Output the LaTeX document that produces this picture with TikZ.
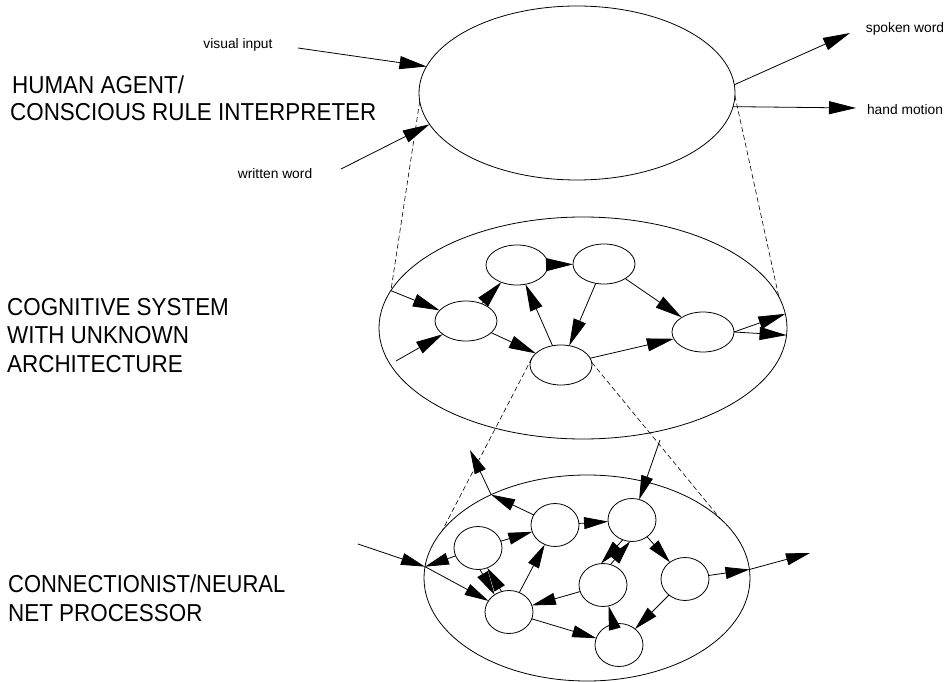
\documentclass[tikz,border=0pt]{standalone}
\usepackage{fontspec}
\setmainfont{Liberation Sans}
\usetikzlibrary{arrows.meta,shapes.geometric}
\tikzset{
  conn/.style={-{Triangle[length=27pt,width=13pt]}, line width=0.8pt},
  sconn/.style={-{Triangle[length=24pt,width=12pt]}, line width=0.8pt},
  dashline/.style={line width=0.6pt, dash pattern=on 5pt off 3pt},
  bigell/.style={draw, ellipse, line width=0.8pt, inner sep=0pt, outer sep=0pt},
  midnode/.style={draw, ellipse, line width=0.8pt, inner sep=0pt, outer sep=0pt, minimum width=62pt, minimum height=40pt},
  botnode/.style={draw, ellipse, line width=0.8pt, inner sep=0pt, outer sep=0pt, minimum width=48pt, minimum height=43pt},
  smalllabel/.style={inner sep=0pt, font=\fontsize{13.8}{16}\selectfont},
  biglabel/.style={inner sep=0pt, anchor=base west, xscale=0.915, font=\fontsize{24.5}{28}\selectfont}
}
\begin{document}
\begin{tikzpicture}[x=1pt,y=-1pt]
\useasboundingbox (0,0) rectangle (951,682);

% ---------- big ellipses ----------
\node[bigell, minimum width=316pt, minimum height=174pt] (top) at (577,93) {};
\node[bigell, minimum width=408pt, minimum height=222pt] (mid) at (583,328) {};
\node[bigell, minimum width=326pt, minimum height=206pt] (bot) at (587,578) {};

% ---------- big labels ----------
\node[biglabel] (hum1) at (12,94) {HUMAN AGENT/};
\node[biglabel] (hum2) at (10,121) {CONSCIOUS RULE INTERPRETER};
\node[biglabel] (cog1) at (7,315) {COGNITIVE SYSTEM};
\node[biglabel] (cog2) at (7,343) {WITH UNKNOWN};
\node[biglabel] (cog3) at (7,372) {ARCHITECTURE};
\node[biglabel, xscale=0.98] (con1) at (8,592) {CONNECTIONIST/NEURAL};
\node[biglabel] (con2) at (8,621) {NET PROCESSOR};

% ---------- small labels ----------
\node[smalllabel] (vis) at (238,45) {visual input};
\node[smalllabel] (wri) at (275,174) {written word};
\node[smalllabel] (spo) at (905,29) {spoken word};
\node[smalllabel] (han) at (905,110) {hand motion};

% ---------- free ends ----------
\coordinate (visS) at (298,48);
\coordinate (wriS) at (341,169);
\coordinate (spoT) at (850,33);
\coordinate (hanT) at (856,108);
\coordinate (mInS) at (396,361);
\coordinate (bInS) at (358,544);
\coordinate (bOutUL) at (470,450);
\coordinate (bInT) at (660,440);
\coordinate (bOutR) at (810,553);

% ---------- top arrows ----------
\draw[conn] (visS) -- (top.170.5);
\draw[conn] (wriS) -- (top.192.2);
\draw[conn] (top.3.7) -- (spoT);
\draw[conn] (top.-5.5) -- (hanT);

% ---------- dashed projection lines ----------
\draw[dashline] (top.183.6) -- (mid.169.6);
\draw[dashline] (top.-1.4) -- (mid.9);

% ---------- middle network ----------
\node[midnode] (mA) at (466,321) {};
\node[midnode] (mB) at (517,265) {};
\node[midnode] (mC) at (604,264) {};
\node[midnode] (mD) at (561,365) {};
\node[midnode] (mE) at (703,332) {};

\draw[conn] (mid.169.6) -- (mA);
\draw[conn] (mInS) -- (mA);
\draw[conn] (mA) -- (mB);
\draw[conn] (mB) -- (mC);
\draw[conn] (mD) -- (mB);
\draw[conn] (mC) -- (mD);
\draw[conn] (mA) -- (mD);
\draw[conn] (mC) -- (mE);
\draw[conn] (mD) -- (mE);
\draw[conn] (mE.east) -- (mid.4.2);
\draw[conn] (mE.east) -- (mid.-2.8);

% ---------- dashed lines middle -> bottom ----------
\draw[dashline] (mD.167) -- (bot.162.1);
\draw[dashline] (mD.5.5) -- (bot.24.6);

% ---------- bottom network ----------
\node[botnode] (n1) at (478,548) {};
\node[botnode] (n2) at (555,525) {};
\node[botnode] (n3) at (632,520) {};
\node[botnode] (n4) at (603,585) {};
\node[botnode] (n5) at (685,579) {};
\node[botnode] (n6) at (509,612) {};
\node[botnode] (n7) at (619,645) {};

\draw[sconn] (bInS) -- (bot.176);
\draw[sconn] (bot.176) -- (n6);
\draw[sconn] (n1) -- (bot.176);
\draw[sconn] (n1.-85) -- (n6.130);
\draw[sconn] (n6.110) -- (n1.-65);
\draw[sconn] (n1) -- (n2);
\draw[sconn] (n6) -- (n2);
\draw[sconn] (n2) -- (n3);
\draw[sconn] (n2) -- (bot.139.2);
\draw[sconn] (bot.139.2) -- (bOutUL);
\draw[sconn] (bInT) -- (n3);
\draw[sconn] (n3.-115) -- (n4.95);
\draw[sconn] (n4.70) -- (n3.-95);
\draw[sconn] (n3) -- (n5);
\draw[sconn] (n4) -- (n6);
\draw[sconn] (n5) -- (bot.3.2);
\draw[sconn] (bot.3.2) -- (bOutR);
\draw[sconn] (n6) -- (n7);
\draw[sconn] (n7) -- (n4);
\draw[sconn] (n5) -- (n7);
\end{tikzpicture}
\end{document}
